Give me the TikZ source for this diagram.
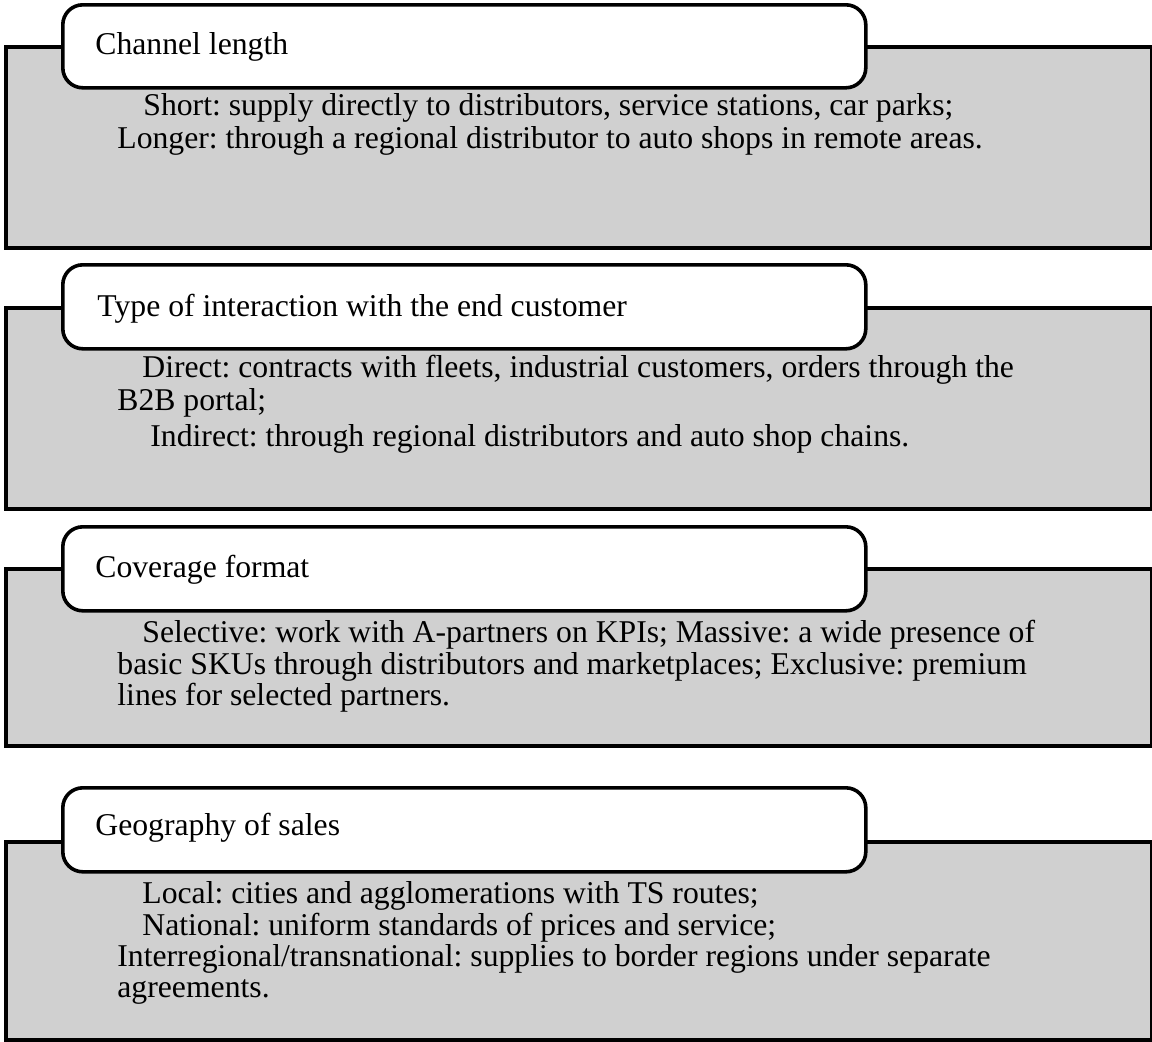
\documentclass[tikz,border=0pt]{standalone}
\usepackage{fontspec}
\setmainfont{Liberation Serif}
\frenchspacing
\begin{document}
\begin{tikzpicture}[x=0.5pt,y=-0.5pt,
  panelbox/.style={draw=black,line width=1.8pt,fill=panelgray,rectangle,inner sep=0pt,anchor=north west},
  tabbox/.style={draw=black,line width=1.8pt,fill=white,rectangle,rounded corners=10pt,inner sep=0pt,anchor=north west},
  title/.style={anchor=base west,inner sep=0pt,font=\fontsize{15.85pt}{17pt}\selectfont},
  bodyline/.style={anchor=base west,inner sep=0pt,font=\fontsize{15.85pt}{17pt}\selectfont}]
\definecolor{panelgray}{RGB}{208,208,208}
\useasboundingbox (0,0) rectangle (1152,1041);

% --- Channel length ---
\node[panelbox,minimum width=573pt,minimum height=100.5pt] (box1) at (4,45) {};
\node[tabbox,minimum width=401.5pt,minimum height=41.5pt] (tab1) at (61,3) {};
\node[title] (title1) at (95,54) {Channel length};
\node[bodyline] (b1a) at (143,115) {Short: supply directly to distributors, service stations, car parks;};
\node[bodyline] (b1b) at (117,148) {Longer: through a regional distributor to auto shops in remote areas.};

% --- Type of interaction ---
\node[panelbox,minimum width=573pt,minimum height=100.5pt] (box2) at (4,306) {};
\node[tabbox,minimum width=401.5pt,minimum height=42pt] (tab2) at (61,263) {};
\node[title] (title2) at (97,316) {Type of interaction with the end customer};
\node[bodyline] (b2a) at (142,377) {Direct: contracts with fleets, industrial customers, orders through the};
\node[bodyline] (b2b) at (117,410) {B2B portal;};
\node[bodyline] (b2c) at (150,446) {Indirect: through regional distributors and auto shop chains.};

% --- Coverage format ---
\node[panelbox,minimum width=573pt,minimum height=88.5pt] (box3) at (4,567) {};
\node[tabbox,minimum width=401.5pt,minimum height=42pt] (tab3) at (61,525) {};
\node[title] (title3) at (95,577) {Coverage format};
\node[bodyline] (b3a) at (142,642) {Selective: work with A-partners on KPIs; Massive: a wide presence of};
\node[bodyline] (b3b) at (117,674) {basic SKUs through distributors and marketplaces; Exclusive: premium};
\node[bodyline] (b3c) at (117,705) {lines for selected partners.};

% --- Geography of sales ---
\node[panelbox,minimum width=573pt,minimum height=99pt] (box4) at (4,840) {};
\node[tabbox,minimum width=401.5pt,minimum height=42pt] (tab4) at (61,786) {};
\node[title] (title4) at (95,835) {Geography of sales};
\node[bodyline] (b4a) at (142,903) {Local: cities and agglomerations with TS routes;};
\node[bodyline] (b4b) at (142,935) {National: uniform standards of prices and service;};
\node[bodyline] (b4c) at (117,966) {Interregional/transnational: supplies to border regions under separate};
\node[bodyline] (b4d) at (117,997) {agreements.};
\end{tikzpicture}
\end{document}
